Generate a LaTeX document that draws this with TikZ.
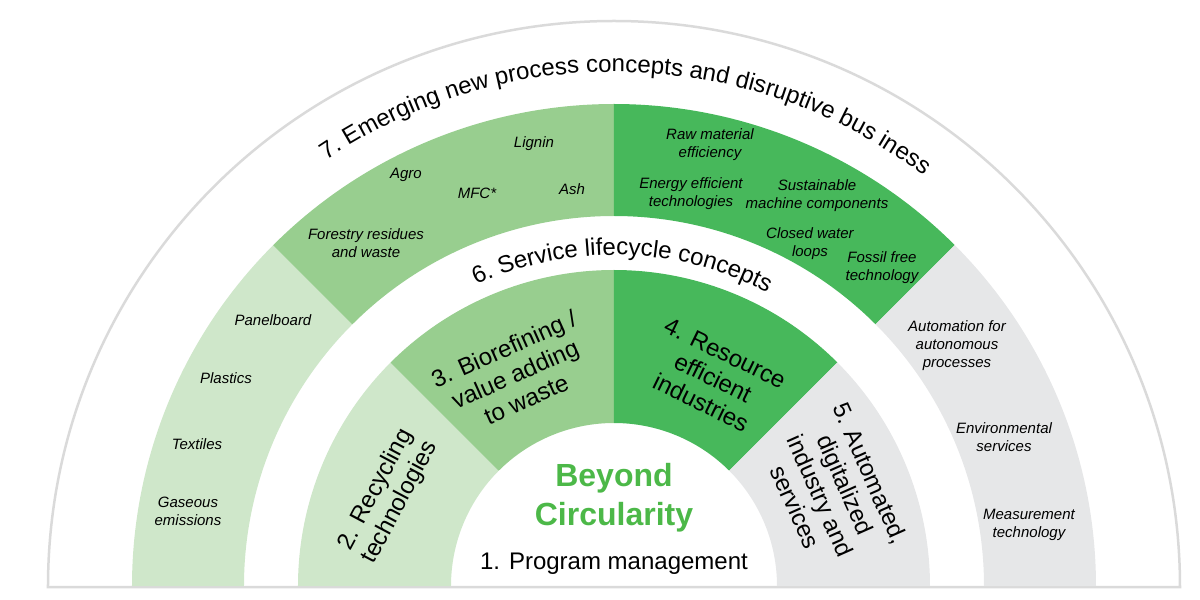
\documentclass[tikz,border=0pt]{standalone}
\usepackage{fontspec}
\setmainfont{Liberation Sans}
\usetikzlibrary{decorations.text}
\definecolor{palegreen}{HTML}{CFE7CA}
\definecolor{leafgreen}{HTML}{98CE8F}
\definecolor{deepgreen}{HTML}{47B85B}
\definecolor{paleband}{HTML}{E6E7E8}
\definecolor{rimgrey}{HTML}{DADADA}
\definecolor{titlegreen}{HTML}{4CB848}
\tikzset{
    item/.style={font=\fontsize{15}{18}\selectfont\itshape,align=center,inner sep=0pt},
    ringlabel/.style={font=\fontsize{24}{27.5}\selectfont,align=center,inner sep=0pt},
}
\begin{document}
\begin{tikzpicture}[x=1pt,y=1pt]
        \useasboundingbox (-614,-14) rectangle (586,586);
        % outer rim
        \draw[rimgrey,line width=2.5pt] (-566,-1) -- (566,-1) arc[start angle=0,end angle=180,radius=566pt] -- cycle;
        % bands, 45 degree sectors
        \foreach \a/\c in {180/palegreen,135/leafgreen,90/deepgreen,45/paleband}{
            \fill[\c] (\a:370pt) arc[start angle=\a,end angle=\a-45,radius=370pt] -- (\a-45:482pt) arc[start angle=\a-45,end angle=\a,radius=482pt] -- cycle;
            \fill[\c] (\a:163pt) arc[start angle=\a,end angle=\a-45,radius=163pt] -- (\a-45:316pt) arc[start angle=\a-45,end angle=\a,radius=316pt] -- cycle;
        }
        % texts on the arcs
        \path[decorate,decoration={text along path,text align=center,text={|\fontsize{24}{24}\selectfont|7. Emerging new process concepts and disruptive bus iness}}] (170:514pt) arc[start angle=170,end angle=7,radius=514pt];
        \path[decorate,decoration={text along path,text align=center,text={|\fontsize{24}{24}\selectfont|6. Service lifecycle concepts}}] (160:331pt) arc[start angle=160,end angle=17,radius=331pt];

        % outer band items
        \node[item](panelboard)at(-341,266){Panelboard};
        \node[item](plastics)at(-388,208){Plastics};
        \node[item](textiles)at(-417,142){Textiles};
        \node[item](gaseous)at(-426,75){Gaseous\\emissions};
        \node[item](forestry)at(-248,343){Forestry residues\\and waste};
        \node[item](agro)at(-208,411){Agro};
        \node[item](mfc)at(-137,393){MFC*};
        \node[item](lignin)at(-80,442){Lignin};
        \node[item](ash)at(-42,397){Ash};
        \node[item](rawmat)at(96,441){Raw material\\efficiency};
        \node[item](energy)at(77,392){Energy efficient\\technologies};
        \node[item](machine)at(203,390){Sustainable\\machine components};
        \node[item](water)at(196,342){Closed water\\loops};
        \node[item](fossil)at(268,318){Fossil free\\technology};
        \node[item](automation)at(343,240){Automation for\\autonomous\\processes};
        \node[item](environment)at(390,149){Environmental\\services};
        \node[item](measurement)at(415,61){Measurement\\technology};

        % inner ring
        \node[ringlabel,rotate=62](recycling)at(-226,90){2. Recycling\\technologies};
        \node[ringlabel,rotate=24](biorefining)at(-99,212){3. Biorefining /\\value adding\\to waste};
        \node[ringlabel,rotate=-26](resource)at(99,208){4. Resource\\efficient\\industries};
        \node[ringlabel,rotate=-66](automated)at(219,96){5. Automated,\\digitalized\\industry and\\services};

        % centre
        \node[font=\fontsize{32}{39}\selectfont\bfseries,text=titlegreen,align=center,inner sep=0pt](beyond)at(0,88){Beyond\\Circularity};
        \node[ringlabel](program)at(0,22){1. Program management};
    \end{tikzpicture}
\end{document}
